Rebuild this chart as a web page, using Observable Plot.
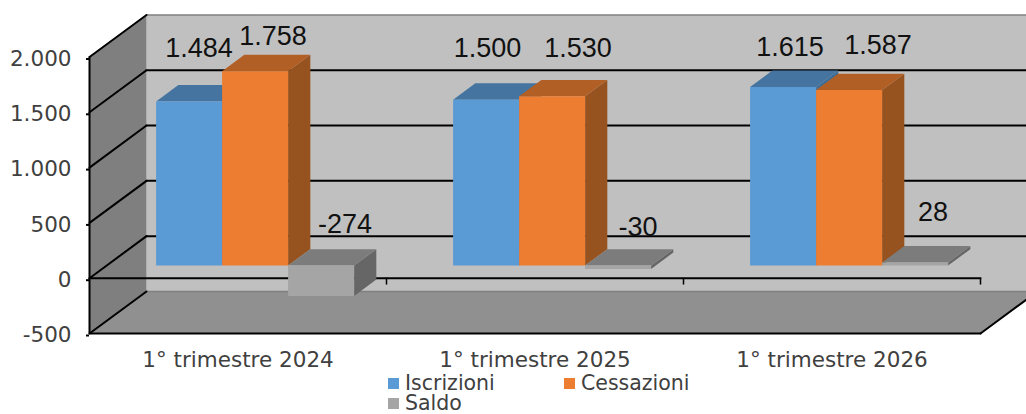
<!DOCTYPE html>
<html>
<head>
<meta charset="utf-8">
<script src="https://cdn.jsdelivr.net/npm/d3@7"></script>
<script src="https://cdn.jsdelivr.net/npm/@observablehq/plot@0.6"></script>
<style>
html,body{margin:0;padding:0;background:#fff;overflow:hidden}
#legend{position:relative;width:1026px;height:44px;font:20.5px "DejaVu Sans",sans-serif;color:#404040}
.it{position:absolute;line-height:18px;white-space:nowrap}
.sw{position:absolute;left:-17px;top:4px;width:11px;height:11px}
</style>
</head>
<body>
<div id="chart"></div>
<div id="legend"></div>
<script>
const categories = ["1° trimestre 2024", "1° trimestre 2025", "1° trimestre 2026"];
const iscrizioni = [1484, 1500, 1615];
const cessazioni = [1758, 1530, 1587];
const saldo = [-274, -30, 28];
const yTicks = [-500, 0, 500, 1000, 1500, 2000];
const gridBack = [0, 500, 1000, 1500];

const fmt = d3.formatLocale({decimal: ",", thousands: ".", grouping: [3], currency: ["", "€"], minus: "-"}).format(",d");

// oblique projection of the Excel 3D box, in data units per unit of depth
const DEPTH_X = 57 / 297, DEPTH_Y = 42 / 0.1105;
const P = (x, v, d = 0) => ({x: x + d * DEPTH_X, y: v + d * DEPTH_Y});
const BAR_W = 2 / 9, GAP = 1 / 6, D0 = 0.30, D1 = 0.69;

const seriesStyle = [
  {name: "Iscrizioni", values: iscrizioni, front: "#5b9bd5", top: "#44749f", side: "#3f6d96", off: [[10, -53], [1.5, -51], [7, -40]]},
  {name: "Cessazioni", values: cessazioni, front: "#ed7d31", top: "#b25f26", side: "#96521f", off: [[18, -35], [26, -48], [29, -44.5]]},
  {name: "Saldo", values: saldo, front: "#a5a5a5", top: "#7c7c7c", side: "#666666", off: [[24, -72], [20, -42], [18, -50]]}
];

const poly = (pts, fill) => Plot.line(pts, {x: "x", y: "y", fill, stroke: "none", curve: "linear"});
const seg = (a, b, o = {}) => Plot.line([a, b], {x: "x", y: "y", stroke: "#000", strokeWidth: 2, ...o});

const nCat = categories.length, yMin = yTicks[0], yMax = yTicks[yTicks.length - 1];
const marks = [];

// walls and floor
marks.push(poly([P(0, yMin, 1), P(nCat, yMin, 1), P(nCat, yMax, 1), P(0, yMax, 1)], "#c0c0c0"));
marks.push(poly([P(0, yMin), P(0, yMin, 1), P(0, yMax, 1), P(0, yMax)], "#7f7f7f"));
marks.push(poly([P(0, yMin), P(nCat, yMin), P(nCat, yMin, 1), P(0, yMin, 1)], "#909090"));

// gridlines
marks.push(seg(P(0, yMax, 1), P(nCat, yMax, 1), {stroke: "#808080", strokeWidth: 1.5}));
marks.push(seg(P(0, yMin, 1), P(nCat, yMin, 1), {stroke: "#808080", strokeWidth: 1.5}));
for (const v of gridBack) marks.push(seg(P(0, v, 1), P(nCat, v, 1)));
for (const v of yTicks) marks.push(seg(P(0, v), P(0, v, 1)));
marks.push(seg(P(0, yMin), P(nCat, yMin)));
marks.push(seg(P(nCat, yMin), P(nCat, yMin, 1)));
marks.push(seg(P(0, 0), P(nCat, 0)));
marks.push(Plot.ruleX(d3.range(1, nCat + 1), {y1: 0, y2: -62, stroke: "#000", strokeWidth: 1.5}));
marks.push(Plot.ruleX([0], {stroke: "#000", strokeWidth: 2}));

// bars
categories.forEach((_, c) => {
  seriesStyle.forEach((s, k) => {
    const v = s.values[c];
    const x0 = c + GAP + k * BAR_W, x1 = x0 + BAR_W;
    const hi = Math.max(v, 0), lo = Math.min(v, 0);
    marks.push(poly([P(x1, lo, D0), P(x1, lo, D1), P(x1, hi, D1), P(x1, hi, D0)], s.side));
    marks.push(poly([P(x0, hi, D0), P(x1, hi, D0), P(x1, hi, D1), P(x0, hi, D1)], s.top));
    marks.push(poly([P(x0, lo, D0), P(x1, lo, D0), P(x1, hi, D0), P(x0, hi, D0)], s.front));
  });
});

// data labels
categories.forEach((_, c) => {
  seriesStyle.forEach((s, k) => {
    const v = s.values[c];
    const p = P(c + GAP + (k + 0.5) * BAR_W, v, D0);
    marks.push(Plot.text([p], {
      x: "x", y: "y", text: () => fmt(v), dx: s.off[c][0], dy: s.off[c][1],
      fontSize: 27, fill: "#111", fontFamily: "Liberation Sans"
    }));
  });
});

const chart = Plot.plot({
  width: 1026, height: 370,
  marginLeft: 89, marginRight: 46, marginTop: 56.5, marginBottom: 37,
  style: {background: "transparent", fontFamily: "DejaVu Sans", overflow: "visible"},
  x: {domain: [0, nCat]},
  y: {domain: [yMin, yMax]},
  marks: [
    ...marks,
    Plot.axisY({ticks: yTicks, tickFormat: fmt, tickSize: 3, tickPadding: 15, fontSize: 21.5, fill: "#404040", stroke: "#000", strokeWidth: 2, label: null, dy: 2}),
    Plot.axisX({ticks: categories.map((_, i) => i + 0.5), tickFormat: (d) => categories[Math.floor(d)], tickSize: 0, tickPadding: 18, fontSize: 21.5, fill: "#404040", label: null})
  ]
});
document.getElementById("chart").appendChild(chart);
chart.style.display = "block";

const legend = document.getElementById("legend");
const legendPos = [[405, 4], [581, 4], [405, 24]];
seriesStyle.forEach((s, i) => {
  const el = document.createElement("div");
  el.className = "it";
  el.style.left = legendPos[i][0] + "px";
  el.style.top = legendPos[i][1] + "px";
  el.textContent = s.name;
  const sw = document.createElement("span");
  sw.className = "sw";
  sw.style.background = s.front;
  el.appendChild(sw);
  legend.appendChild(el);
});
</script>
</body>
</html>
